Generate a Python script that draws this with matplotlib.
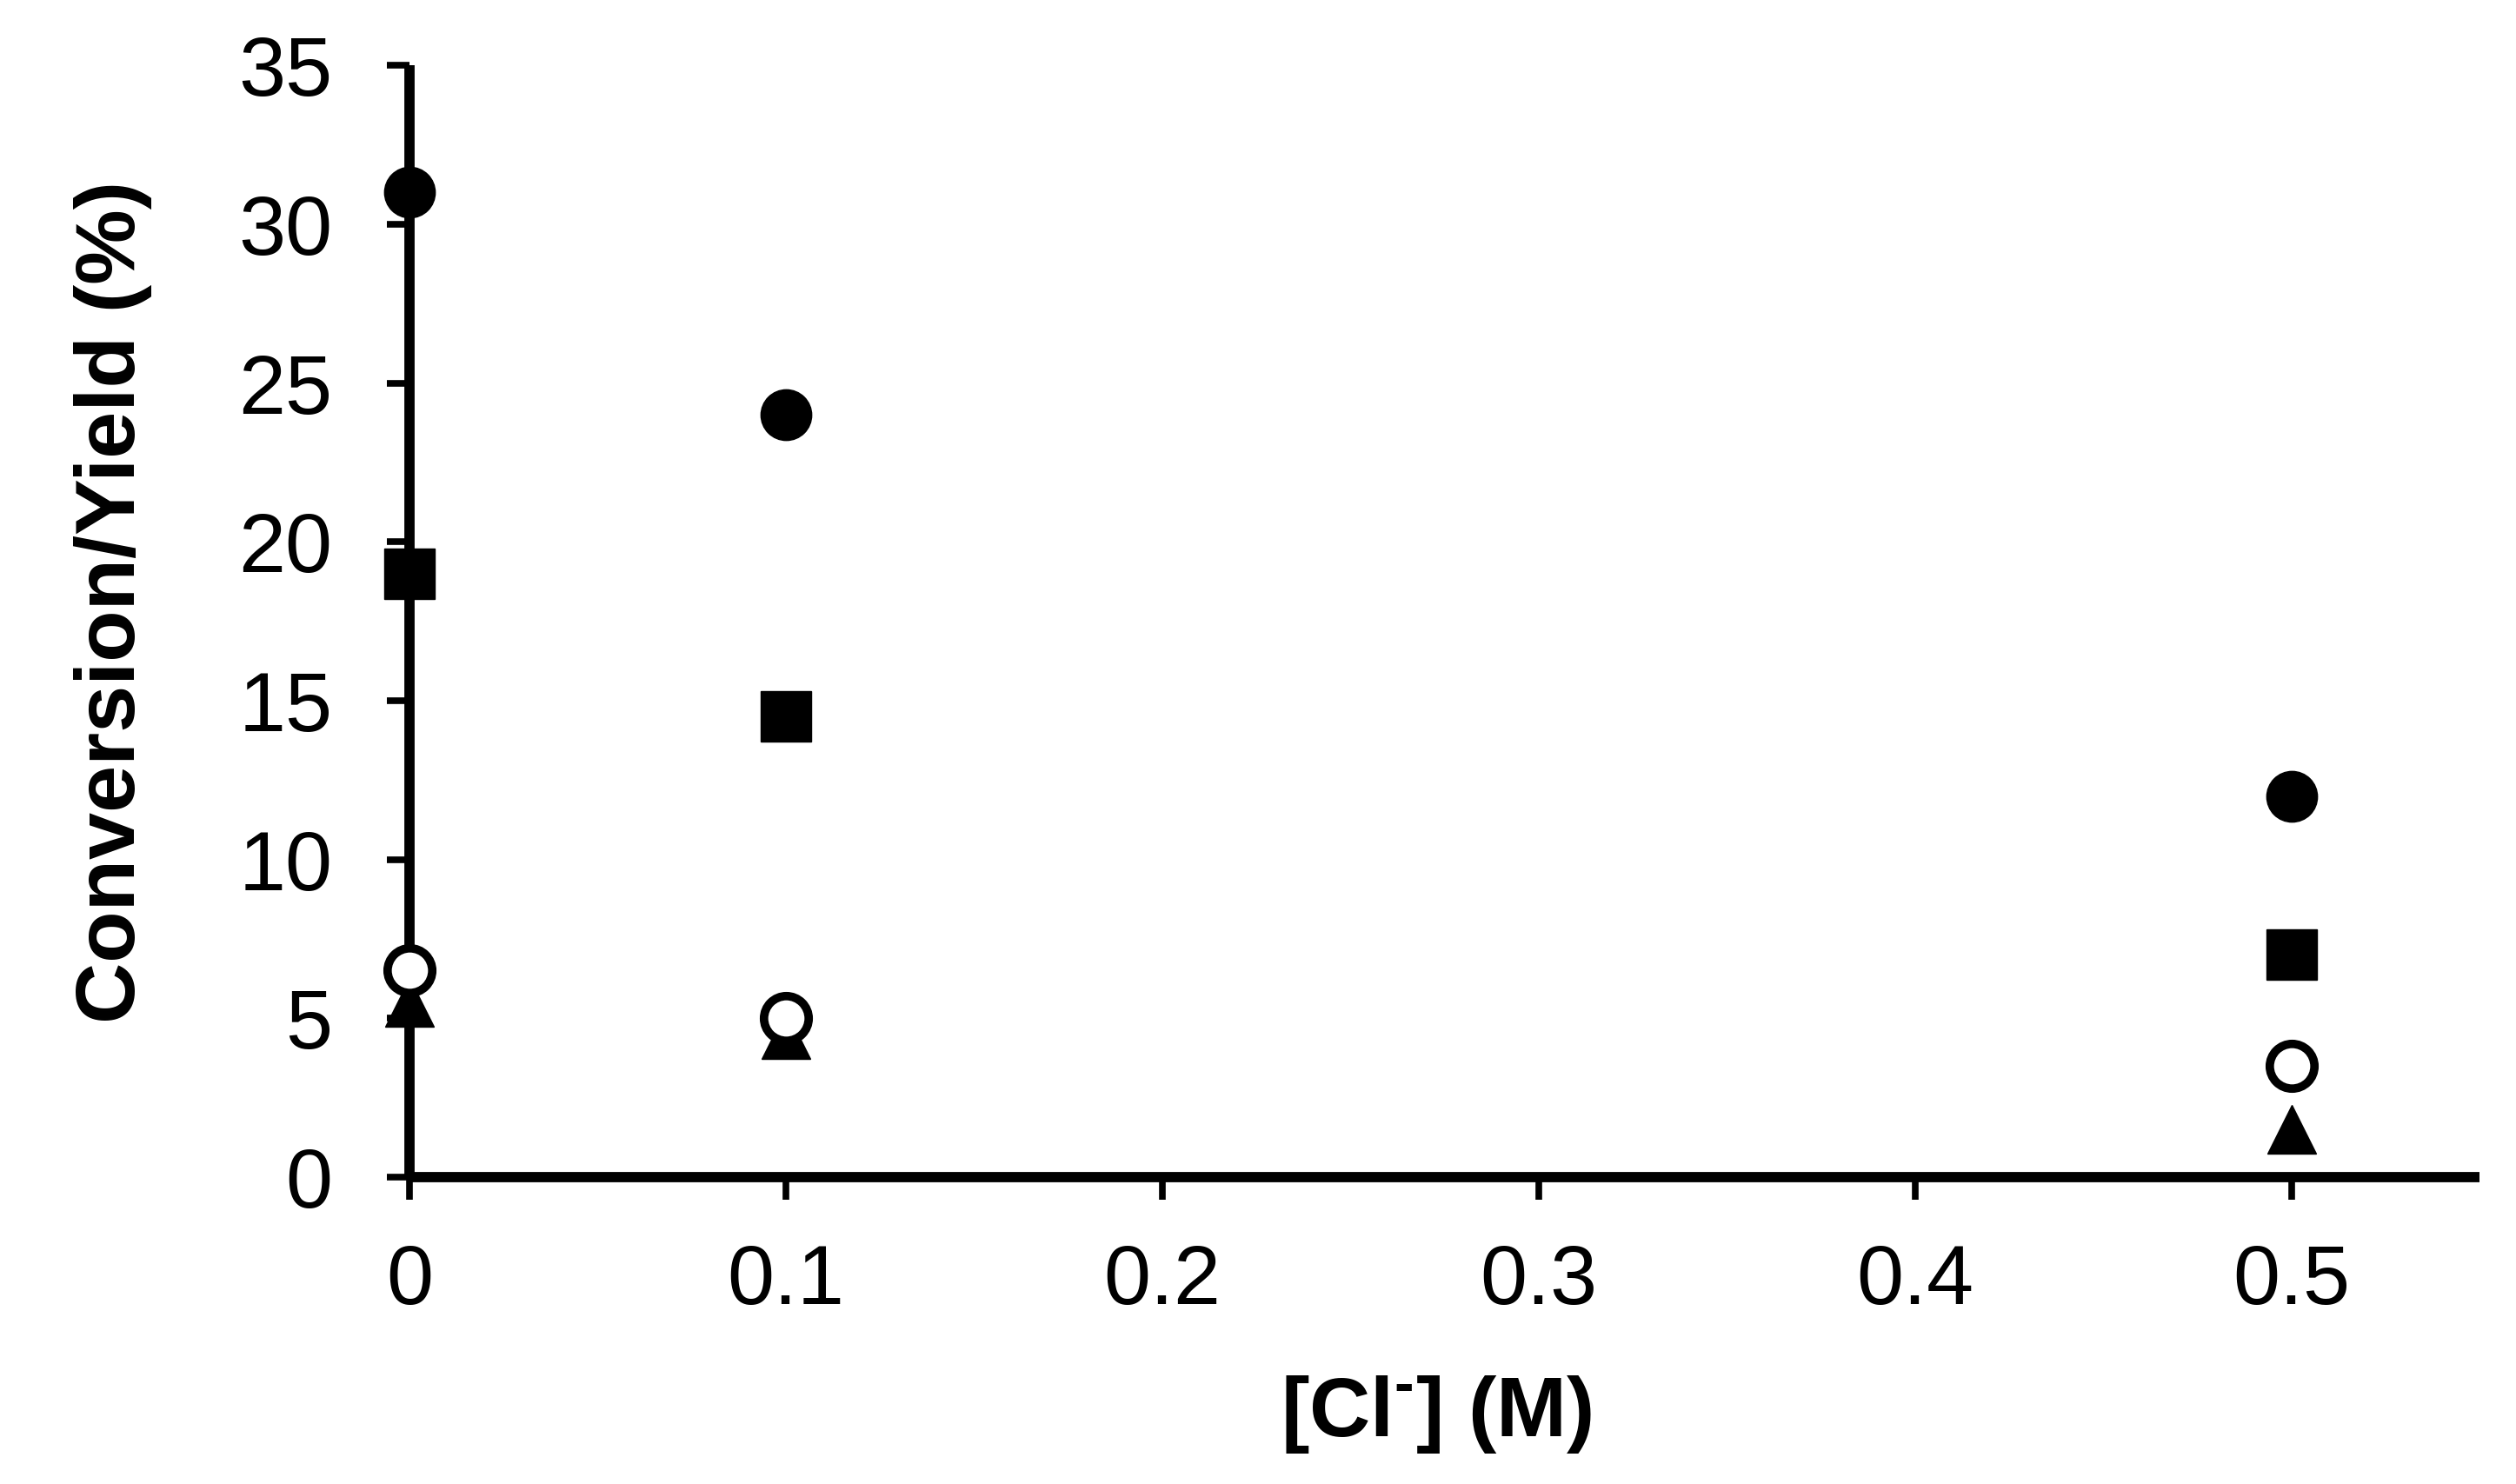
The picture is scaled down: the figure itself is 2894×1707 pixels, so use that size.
import matplotlib
matplotlib.use('Agg')
import matplotlib.pyplot as plt

# Data
cl_conc = [0, 0.1, 0.5]
conv_filled_circle = [31, 24, 12]
yield_square = [19, 14.5, 7]
yield_open_circle = [6.5, 5, 3.5]
yield_triangle = [5.5, 4.5, 1.5]

x_ticks = [0, 0.1, 0.2, 0.3, 0.4, 0.5]
x_tick_labels = ['0', '0.1', '0.2', '0.3', '0.4', '0.5']
y_ticks = [0, 5, 10, 15, 20, 25, 30, 35]

plt.rcParams['font.family'] = ['Liberation Sans', 'DejaVu Sans']
plt.rcParams['mathtext.fontset'] = 'custom'
plt.rcParams['mathtext.rm'] = 'Liberation Sans:bold'
plt.rcParams['mathtext.bf'] = 'Liberation Sans:bold'

fig = plt.figure(figsize=(28.94, 17.07), dpi=100)
ax = fig.add_axes([0.1628, 0.2068, 0.9855 - 0.1628, 0.956 - 0.2068])

ax.plot(cl_conc, conv_filled_circle, 'o', color='black', markersize=42,
        markeredgewidth=1, clip_on=False, zorder=3)
ax.plot(cl_conc, yield_square, 's', color='black', markersize=42,
        markeredgewidth=1, clip_on=False, zorder=3)
ax.plot(cl_conc, yield_triangle, '^', color='black', markersize=40,
        markeredgewidth=1, clip_on=False, zorder=3)
ax.plot(cl_conc, yield_open_circle, 'o', markerfacecolor='white',
        markeredgecolor='black', markersize=37, markeredgewidth=7,
        clip_on=False, zorder=4)

ax.set_xlim(0, 0.55)
ax.set_ylim(0, 35)
ax.set_xticks(x_ticks)
ax.set_xticklabels(x_tick_labels)
ax.set_yticks(y_ticks)

for side in ['top', 'right']:
    ax.spines[side].set_visible(False)
for side in ['left', 'bottom']:
    ax.spines[side].set_linewidth(8.5)
    ax.spines[side].set_capstyle('butt')

ax.tick_params(axis='both', direction='out', length=19, width=5.5,
               labelsize=70)
ax.tick_params(axis='x', pad=36)
ax.tick_params(axis='y', pad=45)

ax.set_ylabel('Conversion/Yield (%)', fontsize=70, fontweight='bold')
ax.set_xlabel(r'[Cl$^{\text{-}}$] (M)', fontsize=70, fontweight='bold')
ax.yaxis.set_label_coords(-0.1432, 0.517)
ax.xaxis.set_label_coords(0.496, -0.2135)
ax.xaxis.label.set_va('center')
ax.yaxis.label.set_va('center')

fig.savefig('out.png', dpi=100)
